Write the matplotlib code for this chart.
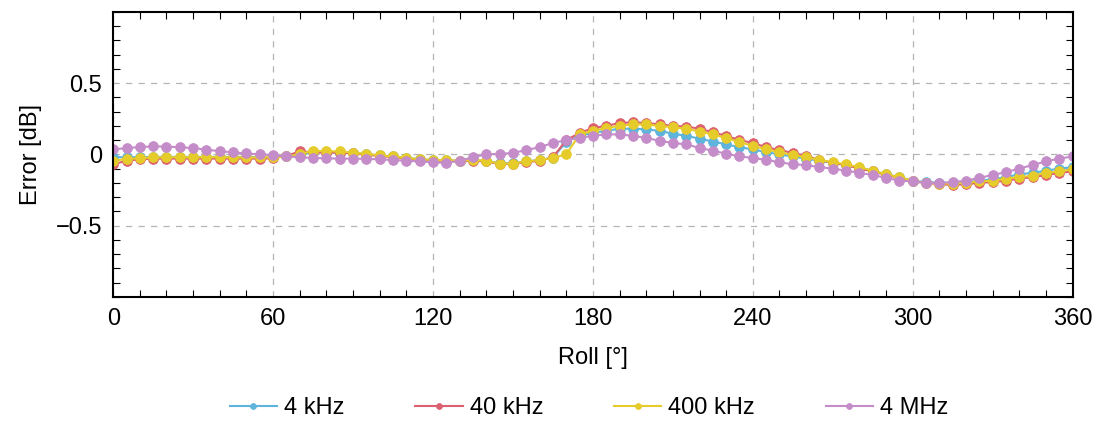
import matplotlib
matplotlib.use('Agg')
import matplotlib.pyplot as plt
import matplotlib.ticker as ticker
import numpy as np

# roll angle, 5 degree steps
roll = list(range(0, 361, 5))

err_4k = [-0.020, -0.020, -0.020, -0.018, -0.018, -0.018, -0.018, -0.018, -0.018, -0.020,
          -0.020, -0.020, -0.020, -0.015, -0.002, 0.015, 0.015, 0.012, 0.008, 0.000,
          -0.008, -0.015, -0.025, -0.035, -0.040, -0.042, -0.045, -0.042, -0.045, -0.062,
          -0.062, -0.050, -0.040, -0.025, 0.090, 0.130, 0.150, 0.165, 0.180, 0.180,
          0.175, 0.165, 0.145, 0.130, 0.110, 0.090, 0.070, 0.050, 0.035, 0.015,
          0.000, -0.015, -0.030, -0.045, -0.060, -0.075, -0.095, -0.115, -0.140, -0.160,
          -0.185, -0.195, -0.200, -0.200, -0.195, -0.185, -0.175, -0.160, -0.140, -0.130,
          -0.115, -0.100, -0.090]
err_40k = [-0.070, -0.045, -0.035, -0.030, -0.030, -0.030, -0.030, -0.030, -0.030, -0.030,
           -0.030, -0.030, -0.028, -0.010, 0.020, 0.015, 0.012, 0.012, 0.006, -0.002,
           -0.012, -0.020, -0.030, -0.040, -0.045, -0.045, -0.050, -0.045, -0.050, -0.068,
           -0.068, -0.055, -0.045, -0.020, 0.100, 0.150, 0.185, 0.200, 0.220, 0.225,
           0.220, 0.210, 0.200, 0.195, 0.180, 0.155, 0.130, 0.100, 0.080, 0.050,
           0.030, 0.010, -0.010, -0.040, -0.060, -0.075, -0.100, -0.120, -0.145, -0.165,
           -0.190, -0.200, -0.210, -0.215, -0.210, -0.200, -0.195, -0.185, -0.170, -0.160,
           -0.145, -0.130, -0.120]
err_400k = [-0.045, -0.033, -0.026, -0.022, -0.020, -0.020, -0.020, -0.020, -0.020, -0.022,
            -0.022, -0.022, -0.020, -0.015, 0.000, 0.026, 0.022, 0.020, 0.012, 0.003,
            -0.007, -0.015, -0.025, -0.035, -0.040, -0.040, -0.045, -0.040, -0.045, -0.065,
            -0.065, -0.050, -0.040, -0.025, 0.000, 0.140, 0.165, 0.185, 0.200, 0.210,
            0.210, 0.200, 0.190, 0.180, 0.160, 0.140, 0.115, 0.085, 0.060, 0.035,
            0.015, -0.005, -0.020, -0.040, -0.055, -0.070, -0.090, -0.115, -0.140, -0.160,
            -0.185, -0.200, -0.205, -0.205, -0.200, -0.190, -0.185, -0.170, -0.160, -0.150,
            -0.130, -0.120, -0.105]
err_4M = [0.035, 0.044, 0.051, 0.056, 0.054, 0.050, 0.044, 0.033, 0.022, 0.014,
          0.006, 0.000, -0.005, -0.015, -0.020, -0.025, -0.028, -0.030, -0.030, -0.032,
          -0.035, -0.040, -0.045, -0.050, -0.055, -0.060, -0.045, -0.020, 0.000, 0.003,
          0.010, 0.030, 0.050, 0.080, 0.100, 0.115, 0.130, 0.140, 0.140, 0.130,
          0.115, 0.095, 0.080, 0.070, 0.045, 0.025, 0.005, -0.015, -0.025, -0.040,
          -0.055, -0.070, -0.075, -0.090, -0.100, -0.115, -0.130, -0.145, -0.165, -0.185,
          -0.190, -0.200, -0.200, -0.195, -0.185, -0.165, -0.145, -0.125, -0.100, -0.075,
          -0.050, -0.030, -0.015]

series = [('4 kHz', err_4k, '#5fb4dc'),
          ('40 kHz', err_40k, '#dc6070'),
          ('400 kHz', err_400k, '#e6cc2a'),
          ('4 MHz', err_4M, '#c48cc8')]

plt.rcParams.update({'font.family': ['Liberation Sans Narrow', 'Liberation Sans', 'DejaVu Sans'],
                     'font.size': 17})

fig = plt.figure(figsize=(10.99, 4.24), dpi=100)
ax = fig.add_axes([0.103, 0.300, 0.873, 0.672])

for name, vals, col in series:
    ax.plot(roll, vals, '-o', color=col, linewidth=1.5, markersize=7,
            markeredgewidth=0.6, markeredgecolor=col, label=name)

ax.set_xlim(0, 360)
ax.set_ylim(-1, 1)
ax.set_xticks([0, 60, 120, 180, 240, 300, 360])
ax.set_yticks([-0.5, 0, 0.5])
ax.yaxis.set_major_formatter(ticker.FuncFormatter(
    lambda v, p: '0' if v == 0 else f'{v:.1f}'.replace('-', '\u2212')))
ax.xaxis.set_minor_locator(ticker.MultipleLocator(10))
ax.yaxis.set_minor_locator(ticker.MultipleLocator(0.1))
ax.tick_params(which='both', direction='in', top=True, right=True)
ax.tick_params(which='major', length=0, pad=8)
ax.tick_params(which='minor', length=5, width=0.8)
ax.grid(True, which='major', linestyle=(0, (5, 5)), color='#b4b4b4', linewidth=0.9)
for s in ax.spines.values():
    s.set_linewidth(1.5)

ax.set_xlabel('Roll [°]', labelpad=12)
ax.set_ylabel('Error [dB]', labelpad=10)

fig.legend(loc='center', bbox_to_anchor=(0.536, 0.038), ncol=4, frameon=False,
           handlelength=2.0, columnspacing=3.0, handletextpad=0.3,
           fontsize=17, markerscale=0.6)

fig.savefig('out.png', dpi=100)
